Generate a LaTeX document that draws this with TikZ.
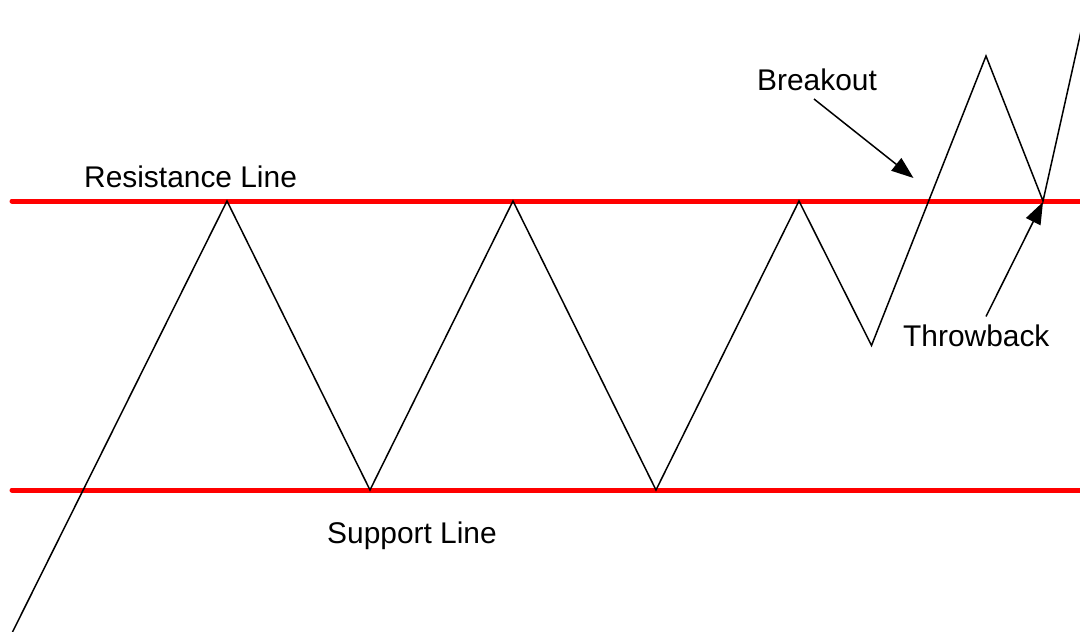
\documentclass[tikz,border=0pt]{standalone}
\usepackage{fontspec}
\setmainfont{Liberation Sans}
\usetikzlibrary{arrows.meta}
\begin{document}
\begin{tikzpicture}[x=1pt,y=-1pt,
  level/.style={draw=red,line width=5pt,line cap=round},
  price/.style={draw=black,line width=1.5pt,line join=miter},
  pointer/.style={draw=black,line width=1.5pt,-{Triangle[length=22pt,width=16pt]}},
  lbl/.style={font=\fontsize{29.9}{35}\selectfont,inner sep=0pt,anchor=base west}]
\useasboundingbox (0,0) rectangle (1080,632);
\clip (0,0) rectangle (1080,632);
\fill[white] (0,0) rectangle (1080,632);
% levels
\coordinate (r0) at (12,201);
\coordinate (r1) at (1090,201);
\coordinate (s0) at (12,490);
\coordinate (s1) at (1090,490);
\draw[level] (r0) -- (r1);
\draw[level] (s0) -- (s1);
% price path
\coordinate (p0) at (12.5,632);
\coordinate (p1) at (227,201);
\coordinate (p2) at (370,490);
\coordinate (p3) at (513,201);
\coordinate (p4) at (656,490);
\coordinate (p5) at (799,201);
\coordinate (p6) at (871.5,345.5);
\coordinate (p7) at (986,56);
\coordinate (p8) at (1043,201);
\coordinate (p9) at (1083.5,20);
\draw[price] (p0) -- (p1) -- (p2) -- (p3) -- (p4) -- (p5) -- (p6) -- (p7) -- (p8) -- (p9);
% labels
\node[lbl] (res) at (84,187) {Resistance Line};
\node[lbl] (sup) at (327,543) {Support Line};
\node[lbl] (brk) at (757,90) {Breakout};
\node[lbl] (thr) at (903,346) {Throwback};
% pointers
\coordinate (b0) at (814,99);
\coordinate (b1) at (913.5,178);
\coordinate (t0) at (986,316.5);
\coordinate (t1) at (1043,202);
\draw[pointer] (b0) -- (b1);
\draw[pointer] (t0) -- (t1);
\end{tikzpicture}
\end{document}
